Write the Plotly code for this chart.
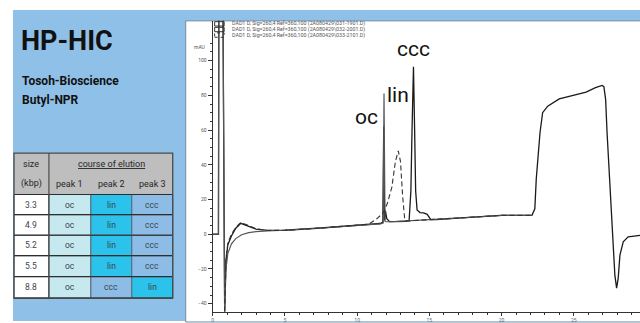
import plotly.graph_objects as go

# ---------------- data ----------------
sizes = ["3.3", "4.9", "5.2", "5.5", "8.8"]
peak1 = ["oc", "oc", "oc", "oc", "oc"]
peak2 = ["lin", "lin", "lin", "lin", "ccc"]
peak3 = ["ccc", "ccc", "ccc", "ccc", "lin"]

legend_names = [
    "DAD1 D, Sig=260,4 Ref=360,100 (2A080429\\031-1901.D)",
    "DAD1 D, Sig=260,4 Ref=360,100 (2A080429\\032-2001.D)",
    "DAD1 D, Sig=260,4 Ref=360,100 (2A080429\\033-2101.D)",
]

y_ticks = [-40, -20, 0, 20, 40, 60, 80, 100]
y_minor = [-45, -40, -35, -30, -25, -20, -15, -10, -5, 0, 5, 10, 15, 20, 25, 30, 35, 40, 45,
           50, 55, 60, 65, 70, 75, 80, 85, 90, 95, 100, 105, 110]
x_ticks = [0, 5, 10, 15, 20, 25]

t1 = [0, 0.40, 0.43, 0.70, 0.83, 0.92, 1.05, 1.3, 1.6, 1.95, 2.5, 3.0, 3.8, 5.0, 7.5, 10.0, 11.0, 11.6,
      11.78, 11.84, 11.9, 11.96, 12.05, 12.25, 12.6, 13.0, 13.4, 13.6, 13.72, 13.8, 13.9, 13.98, 14.05,
      14.15, 14.35, 14.6, 14.85, 15.1, 15.5, 17.5, 20.0, 22.1, 22.3, 22.4, 22.5, 22.66, 22.84, 23.19,
      23.99, 24.9, 25.85, 26.5, 26.96, 27.08, 27.2, 27.3, 27.4, 27.57, 27.73, 27.84, 27.96, 28.07,
      28.19, 28.42, 28.76, 29.6]
y1 = [0, 0, 150, 150, -44.5, -15, -6, -1, 3.5, 6.3, 4.5, 3.0, 2.2, 2.3, 3.6, 5.0, 5.5, 6.2,
      7, 62, 8, 13.5, 9, 7.3, 7.3, 7.4, 7.5, 8, 25, 60, 96.5, 60, 25,
      14, 12.5, 12.3, 11.5, 8.5, 8.4, 9.6, 10.9, 10.9, 14.7, 31.9, 43, 58.6, 70, 73.8,
      78, 80, 81.9, 84.4, 85.7, 85, 77.7, 58.6, 43.3, 24.3, -4.4, -23.5, -31, -25.4,
      -12, -4.4, -1.5, -0.6]

t2 = [0, 0.40, 0.43, 0.70, 0.83, 0.92, 1.05, 1.3, 1.6, 2.0, 2.5, 3.0, 3.8, 5.0, 7.5, 10.0, 11.0, 11.6,
      11.8, 11.86, 11.93, 12.0, 12.3, 13.0, 14.0, 15.0, 17.5, 20.0, 22.1]
y2 = [0, 0, 150, 150, -44.5, -20, -11, -5.5, -2.5, -0.3, 0.9, 1.5, 2.0, 2.3, 3.6, 5.0, 5.5, 6.0,
      6.5, 81, 7.5, 7.2, 7.2, 7.4, 7.9, 8.4, 9.6, 10.9, 10.9]

t3 = [0.83, 0.92, 1.05, 1.3, 1.6, 1.95, 2.5, 3.0, 3.8, 5.0, 7.5, 10.0, 10.8, 11.3, 11.7, 11.9, 12.1,
      12.4, 12.65, 12.85, 13.0, 13.15, 13.3, 13.6, 14.0, 15.0, 17.5, 20.0, 22.1]
y3 = [-44.5, -14, -5, 0, 4, 6.8, 5.0, 3.2, 2.2, 2.3, 3.6, 5.0, 5.8, 8.5, 11.5, 13.8, 18,
      27, 42, 48, 42, 22, 8, 7.5, 7.9, 8.4, 9.6, 10.9, 10.9]

peak_labels = ["oc", "lin", "ccc"]
peak_label_t = [10.64, 12.85, 13.89]
peak_label_v = [67.5, 80.0, 106.5]

# ---------------- helpers (pixel -> paper) ----------------
W, H = 640, 323
def X(px):
    return px / W
def Y(py):
    return 1 - py / H

NARROW = "Roboto, Lato, Liberation Sans, sans-serif"
SMALL = "Roboto, Liberation Sans, sans-serif"
BLUE = "#8fc0e8"
cell_colors = {"oc": "#c6e9ef", "lin": "#2bc3eb", "ccc": "#8dbde6"}

fig = go.Figure()
fig.add_trace(go.Scatter(x=t1, y=y1, mode="lines", name=legend_names[0],
                         line=dict(color="#1a1a1a", width=1.3)))
fig.add_trace(go.Scatter(x=t2, y=y2, mode="lines", name=legend_names[1],
                         line=dict(color="#555555", width=1.2)))
fig.add_trace(go.Scatter(x=t3, y=y3, mode="lines", name=legend_names[2],
                         line=dict(color="#333333", width=1.1, dash="5px,3px")))

shapes = []
ann = []

def text(px, py, s, font, xa="center", ya="middle"):
    ann.append(dict(x=X(px), y=Y(py), xref="paper", yref="paper", text=s, showarrow=False,
                    xanchor=xa, yanchor=ya, font=font))

# background panels
shapes.append(dict(type="rect", xref="paper", yref="paper", x0=X(12), x1=X(640), y0=Y(10), y1=Y(323),
                   fillcolor=BLUE, line=dict(width=0), layer="below"))
shapes.append(dict(type="rect", xref="paper", yref="paper", x0=X(185), x1=X(641), y0=Y(21), y1=Y(324),
                   fillcolor="white", line=dict(color="#6d8aa3", width=1), layer="below"))

# table
cols = [13, 48, 90, 131, 172]
rows = [195.7, 216, 236.7, 257.3, 278.3, 300]
shapes.append(dict(type="rect", xref="paper", yref="paper", x0=X(cols[0]), x1=X(cols[-1]), y0=Y(154), y1=Y(rows[0]),
                   fillcolor="#bebebe", line=dict(width=0), layer="below"))
cell_font = dict(family=SMALL, size=8.5, color="#3a4650")
for i in range(len(sizes)):
    vals = [sizes[i], peak1[i], peak2[i], peak3[i]]
    for j, v in enumerate(vals):
        fill = "white" if j == 0 else cell_colors[v]
        shapes.append(dict(type="rect", xref="paper", yref="paper", x0=X(cols[j]), x1=X(cols[j + 1]),
                           y0=Y(rows[i]), y1=Y(rows[i + 1]), fillcolor=fill,
                           line=dict(color="#5a6a78", width=1), layer="below"))
        text((cols[j] + cols[j + 1]) / 2, (rows[i] + rows[i + 1]) / 2, v, cell_font)
# table lines
for r in rows:
    shapes.append(dict(type="line", xref="paper", yref="paper", x0=X(cols[0]), x1=X(cols[-1]), y0=Y(r), y1=Y(r),
                       line=dict(color="#2e2e2e", width=1.2)))
shapes.append(dict(type="rect", xref="paper", yref="paper", x0=X(cols[0]), x1=X(cols[-1]), y0=Y(154), y1=Y(rows[-1]),
                   line=dict(color="#4a4a4a", width=1.3)))
shapes.append(dict(type="line", xref="paper", yref="paper", x0=X(cols[1]), x1=X(cols[1]), y0=Y(154), y1=Y(rows[-1]),
                   line=dict(color="#4a4a4a", width=1.2)))

hdr_font = dict(family=SMALL, size=9, color="#262626")
text(30.5, 165.5, "size", hdr_font)
text(30.5, 185, "(kbp)", hdr_font)
text(110.5, 165.5, "<u>course of elution</u>", hdr_font)
for j, lab in enumerate(["peak 1", "peak 2", "peak 3"]):
    text((cols[j + 1] + cols[j + 2]) / 2, 185, lab, hdr_font)

# titles
text(18, 41, "<b>HP-HIC</b>", dict(family=NARROW, size=27, color="#111111"), xa="left")
text(19, 82, "<b>Tosoh-Bioscience</b>", dict(family=NARROW, size=12, color="#111111"), xa="left")
text(19, 100.5, "<b>Butyl-NPR</b>", dict(family=NARROW, size=12, color="#111111"), xa="left")

# legend (as text + small boxes)
leg_y = [24, 29.7, 35.3]
for k, name in enumerate(legend_names):
    text(229, leg_y[k], name, dict(family=SMALL, size=5.3, color="#555555"), xa="left")
    shapes.append(dict(type="rect", xref="paper", yref="paper", x0=X(214), x1=X(223.5),
                       y0=Y(leg_y[k] + 2.2), y1=Y(leg_y[k] - 2.2),
                       line=dict(color="#333333", width=1, dash="solid" if k < 2 else "dot")))

# mAU
text(206, 47, "mAU", dict(family=SMALL, size=5, color="#555555"), xa="right")

# peak labels
for lab, tx, vy in zip(peak_labels, peak_label_t, peak_label_v):
    ann.append(dict(x=tx, y=vy, xref="x", yref="y", text=lab, showarrow=False,
                    xanchor="center", yanchor="middle",
                    font=dict(family=NARROW, size=21, color="#111111")))

fig.update_layout(
    width=W, height=H, margin=dict(l=0, r=0, t=0, b=0),
    paper_bgcolor="white", plot_bgcolor="rgba(0,0,0,0)",
    showlegend=False, shapes=shapes, annotations=ann,
    xaxis=dict(domain=[212 / W, 1], range=[0, 29.58], showgrid=False, zeroline=False,
               showline=True, linecolor="#333333", linewidth=1, ticks="outside", ticklen=3,
               tickcolor="#333333", tickmode="array", tickvals=x_ticks,
               tickfont=dict(family=SMALL, size=5, color="#4a6f94"),
               minor=dict(dtick=1, tick0=0, ticklen=2, ticks="outside", tickcolor="#333333")),
    yaxis=dict(domain=[(H - 314) / H, (H - 21) / H], range=[-44.8, 122.9], showgrid=False, zeroline=False,
               showline=True, linecolor="#333333", linewidth=1, ticks="outside", ticklen=4,
               tickcolor="#333333", tickmode="array", tickvals=y_ticks,
               tickfont=dict(family=SMALL, size=5, color="#555555"),
               minor=dict(tickmode="array", tickvals=y_minor, ticklen=2, ticks="outside", tickcolor="#333333")),
)

fig.write_html("out.html")
